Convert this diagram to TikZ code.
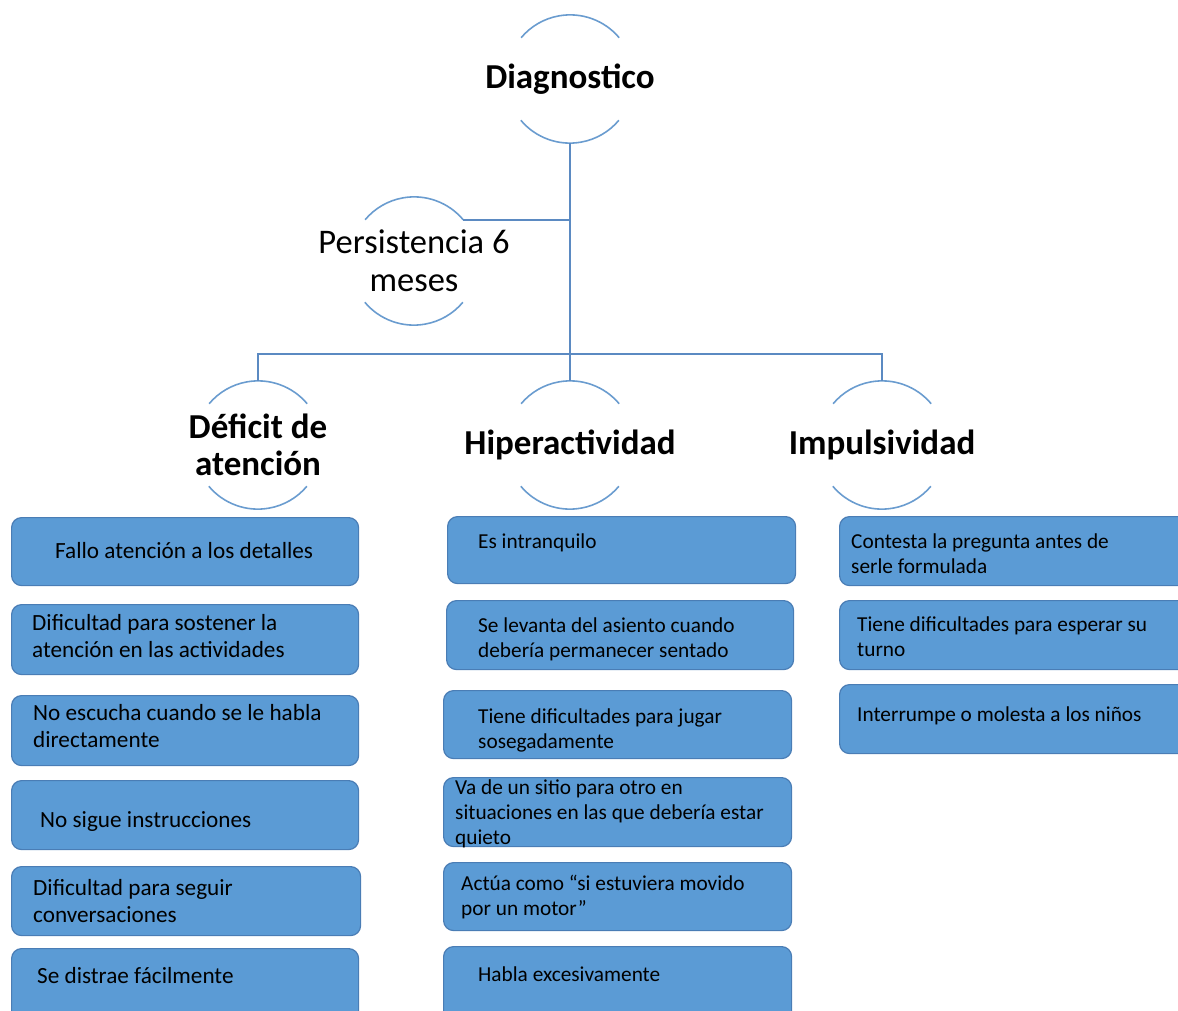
\documentclass[tikz,border=0pt]{standalone}
\usepackage{fontspec}
\setmainfont{Carlito}
\definecolor{itemfill}{HTML}{5B9BD5}
\definecolor{itemedge}{HTML}{4A7DB5}
\definecolor{ringblue}{HTML}{6A9CCF}
\definecolor{linkblue}{HTML}{5B8AC2}

\begin{document}
\begin{tikzpicture}[x=1pt, y=1pt,
    ring/.style={circle, minimum size=128pt, inner sep=0pt},
    head/.style={font=\fontsize{35}{37}\selectfont\bfseries, align=center},
    plainhead/.style={font=\fontsize{34.5}{38}\selectfont, align=center},
    arcline/.style={ringblue, line width=1.6pt},
    link/.style={linkblue, line width=1.8pt},
    item/.style={draw=itemedge, fill=itemfill, line width=1.2pt, rounded corners=10pt,
      anchor=north west, inner sep=0pt},
    bigtext/.style={anchor=west, align=left, inner sep=0pt, font=\fontsize{23.2}{27}\selectfont},
    smalltext/.style={anchor=west, align=left, inner sep=0pt, font=\fontsize{21.3}{25}\selectfont}]
  \useasboundingbox (0,0) rectangle (1178,-1011);
  \clip (0,0) rectangle (1178,-1011);

  % rings with their titles
  \node[ring, label={[head]center:Diagnostico}] (diag) at (570,-79) {};
  \node[ring, label={[plainhead]center:{Persistencia 6\\meses}}] (pers) at (414,-261) {};
  \node[ring, label={[head]center:{Déficit de\\atención}}] (defi) at (258,-445) {};
  \node[ring, label={[head]center:Hiperactividad}] (hiper) at (570,-445) {};
  \node[ring, label={[head]center:Impulsividad}] (impul) at (882,-445) {};

  \draw[arcline] (diag.40) arc[start angle=40, end angle=140, radius=64];
  \draw[arcline] (diag.220) arc[start angle=220, end angle=320, radius=64];
  \draw[arcline] (pers.40) arc[start angle=40, end angle=140, radius=64];
  \draw[arcline] (pers.220) arc[start angle=220, end angle=320, radius=64];
  \draw[arcline] (defi.40) arc[start angle=40, end angle=140, radius=64];
  \draw[arcline] (defi.220) arc[start angle=220, end angle=320, radius=64];
  \draw[arcline] (hiper.40) arc[start angle=40, end angle=140, radius=64];
  \draw[arcline] (hiper.220) arc[start angle=220, end angle=320, radius=64];
  \draw[arcline] (impul.40) arc[start angle=40, end angle=140, radius=64];
  \draw[arcline] (impul.220) arc[start angle=220, end angle=320, radius=64];

  % connectors
  \coordinate (bar) at (570,-354);
  \draw[link] (diag.south) -- (hiper.north);
  \draw[link] (pers.40) -- (pers.40 -| diag.south);
  \draw[link] (defi.north) |- (bar) -| (impul.north);

  % left column
  \node[item, minimum width=347pt, minimum height=68pt] (fallo) at (11,-517) {};
  \node[bigtext] (fallot) at (55,-551) {Fallo atención a los detalles};
  \node[item, minimum width=347pt, minimum height=70pt] (sostener) at (11,-604) {};
  \node[bigtext] (sostenert) at (32,-636) {Dificultad para sostener la\\atención en las actividades};
  \node[item, minimum width=347pt, minimum height=70pt] (escucha) at (11,-695) {};
  \node[bigtext] (escuchat) at (33,-726) {No escucha cuando se le habla\\directamente};
  \node[item, minimum width=347pt, minimum height=69pt] (sigue) at (11,-780) {};
  \node[bigtext] (siguet) at (40,-822) {No sigue instrucciones};
  \node[item, minimum width=349pt, minimum height=69pt] (conver) at (11,-866) {};
  \node[bigtext] (convert) at (33,-901) {Dificultad para seguir\\conversaciones};
  \node[item, minimum width=347pt, minimum height=82pt] (distrae) at (11,-948) {};
  \node[bigtext] (distraet) at (37,-976) {Se distrae fácilmente};

  % middle column
  \node[item, minimum width=348pt, minimum height=67pt] (intran) at (447,-516) {};
  \node[smalltext] (intrant) at (478,-543) {Es intranquilo};
  \node[item, minimum width=347pt, minimum height=69pt] (levanta) at (446,-600) {};
  \node[smalltext] (levantat) at (478,-639) {Se levanta del asiento cuando\\debería permanecer sentado};
  \node[item, minimum width=348pt, minimum height=68pt] (jugar) at (443,-690) {};
  \node[smalltext] (jugart) at (478,-730) {Tiene dificultades para jugar\\sosegadamente};
  \node[item, minimum width=348pt, minimum height=69pt] (sitio) at (443,-777) {};
  \node[smalltext] (sitiot) at (455,-814) {Va de un sitio para otro en\\situaciones en las que debería estar\\quieto};
  \node[item, minimum width=348pt, minimum height=68pt] (motor) at (443,-862) {};
  \node[smalltext] (motort) at (461,-897) {Actúa como “si estuviera movido\\por un motor”};
  \node[item, minimum width=348pt, minimum height=84pt] (habla) at (443,-946) {};
  \node[smalltext] (hablat) at (478,-974) {Habla excesivamente};

  % right column
  \node[item, minimum width=356pt, minimum height=69pt] (contesta) at (839,-516) {};
  \node[smalltext] (contestat) at (851,-554) {Contesta la pregunta antes de\\serle formulada};
  \node[item, minimum width=356pt, minimum height=69pt] (turno) at (839,-600) {};
  \node[smalltext] (turnot) at (857,-637) {Tiene dificultades para esperar su\\turno};
  \node[item, minimum width=356pt, minimum height=69pt] (interr) at (839,-684) {};
  \node[smalltext] (interrt) at (857,-716) {Interrumpe o molesta a los niños};
\end{tikzpicture}
\end{document}
